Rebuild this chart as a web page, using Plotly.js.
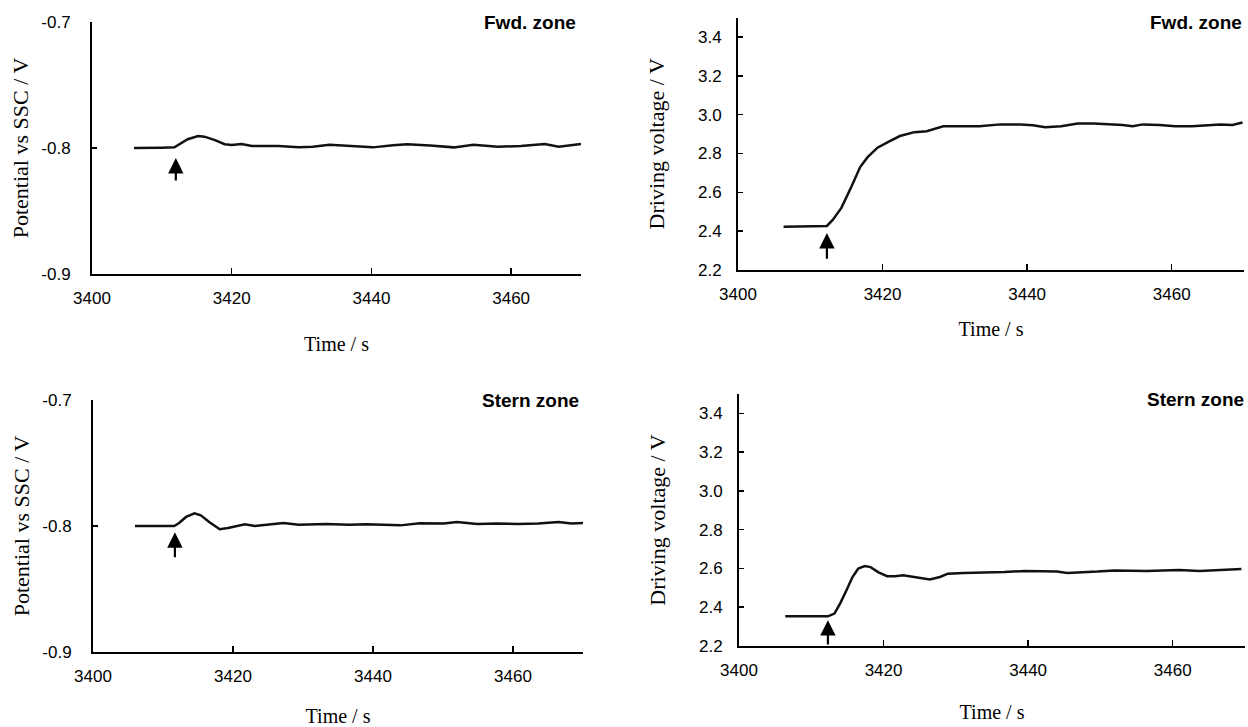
<!DOCTYPE html>
<html><head><meta charset="utf-8">
<script src="https://cdn.plot.ly/plotly-3.0.1.min.js"></script>
<style>html,body{margin:0;padding:0;background:#fff}#chart{width:1248px;height:727px}</style>
</head><body><div id="chart"></div>
<script>
// ---- data ----
const xTickVals = [3400, 3420, 3440, 3460];
const potTickVals = [-0.9, -0.8, -0.7];
const potTickText = ['-0.9', '-0.8', '-0.7'];
const volTickVals = [2.2, 2.4, 2.6, 2.8, 3.0, 3.2, 3.4];
const volTickText = ['2.2', '2.4', '2.6', '2.8', '3.0', '3.2', '3.4'];
const zoneLabels = ['Fwd. zone', 'Stern zone'];

// Fwd. zone, potential vs SSC
const tFwdPot = [3406.0, 3408, 3410, 3411.8, 3412.5, 3413.7, 3415.2, 3416.1, 3417.6, 3419.0, 3420.0, 3421.4, 3422.9, 3424.8, 3426.7, 3429.6, 3431.6, 3434.0, 3437.3, 3440.2, 3443.1, 3445.1, 3448.4, 3451.8, 3454.6, 3458.1, 3461.4, 3464.8, 3466.8, 3468.7, 3470];
const vFwdPot = [-0.8, -0.8002, -0.7998, -0.7995, -0.797, -0.793, -0.7905, -0.791, -0.7937, -0.797, -0.7976, -0.7968, -0.7984, -0.7984, -0.7984, -0.7995, -0.799, -0.7974, -0.7984, -0.7995, -0.7979, -0.797, -0.798, -0.7995, -0.7974, -0.799, -0.7984, -0.7968, -0.799, -0.7974, -0.7968];

// Fwd. zone, driving voltage
const tFwdVolt = [3406.3, 3409, 3412.3, 3413.1, 3414.3, 3415.7, 3416.9, 3417.9, 3419.3, 3420.8, 3422.4, 3424.4, 3426.1, 3428.4, 3431.2, 3433.4, 3436.3, 3439.1, 3440.8, 3442.5, 3444.7, 3447.0, 3449.2, 3451.5, 3453.2, 3454.6, 3456.0, 3458.3, 3460.5, 3462.8, 3464.5, 3466.7, 3468.4, 3469.8];
const vFwdVolt = [2.423, 2.425, 2.427, 2.458, 2.52, 2.63, 2.73, 2.78, 2.83, 2.86, 2.89, 2.91, 2.915, 2.94, 2.94, 2.94, 2.95, 2.95, 2.945, 2.935, 2.94, 2.955, 2.955, 2.95, 2.947, 2.94, 2.95, 2.947, 2.94, 2.94, 2.945, 2.95, 2.947, 2.96];

// Stern zone, potential vs SSC
const tSternPot = [3406.0, 3409, 3411.6, 3412.3, 3413.3, 3414.5, 3415.4, 3416.6, 3418.1, 3419.3, 3420.5, 3421.7, 3423.1, 3425.1, 3427.2, 3429.4, 3433.3, 3436.6, 3439.0, 3443.9, 3446.7, 3450.1, 3452.0, 3454.9, 3457.8, 3460.7, 3463.6, 3466.5, 3468.4, 3470.3];
const vSternPot = [-0.8, -0.8002, -0.8, -0.7976, -0.7928, -0.79, -0.7915, -0.7968, -0.8026, -0.8016, -0.8, -0.7987, -0.8, -0.799, -0.7976, -0.799, -0.7984, -0.799, -0.7987, -0.7995, -0.7978, -0.798, -0.7968, -0.7984, -0.798, -0.7984, -0.798, -0.7968, -0.798, -0.7976];

// Stern zone, driving voltage
const tSternVolt = [3406.4, 3409, 3412.3, 3413.2, 3414.0, 3414.9, 3415.7, 3416.5, 3417.4, 3418.2, 3419.3, 3420.5, 3421.6, 3422.7, 3424.4, 3426.4, 3427.8, 3428.9, 3431.1, 3433.9, 3436.7, 3439.5, 3442.3, 3444.0, 3445.4, 3447.4, 3449.6, 3451.9, 3454.1, 3456.4, 3458.6, 3460.9, 3463.7, 3465.9, 3468.1, 3469.5];
const vSternVolt = [2.353, 2.353, 2.353, 2.367, 2.42, 2.49, 2.556, 2.60, 2.612, 2.607, 2.58, 2.56, 2.56, 2.565, 2.556, 2.543, 2.556, 2.573, 2.577, 2.579, 2.582, 2.587, 2.587, 2.584, 2.577, 2.579, 2.584, 2.59, 2.587, 2.587, 2.59, 2.592, 2.587, 2.59, 2.596, 2.597];

// arrows marking the start of the disturbance (time, tip value, tail value)
const arrowTime = [3412.0, 3412.3, 3411.7, 3412.3];
const arrowTip = [-0.808, 2.39, -0.805, 2.333];
const arrowTail = [-0.827, 2.25, -0.826, 2.2];

// ---- chart ----
const W = 1248, H = 727;
const lineStyle = {color: '#111', width: 2.5};
const traces = [
  {x: tFwdPot, y: vFwdPot, xaxis: 'x', yaxis: 'y'},
  {x: tFwdVolt, y: vFwdVolt, xaxis: 'x2', yaxis: 'y2'},
  {x: tSternPot, y: vSternPot, xaxis: 'x3', yaxis: 'y3'},
  {x: tSternVolt, y: vSternVolt, xaxis: 'x4', yaxis: 'y4'}
].map(t => Object.assign(t, {type: 'scatter', mode: 'lines', line: lineStyle, hoverinfo: 'skip'}));

const tickFont = {family: 'Liberation Sans, Arial, sans-serif', size: 17, color: '#000'};
const xTitleFont = {family: 'Liberation Serif, Times New Roman, serif', size: 20, color: '#000'};
const yTitleFont = {family: 'Liberation Serif, Times New Roman, serif', size: 22, color: '#000'};

function px(a, b) { return [a / W, b / W]; }
function py(top, bottom) { return [1 - bottom / H, 1 - top / H]; }

function xAxis(dom, anchor, standoff) {
  return {
    domain: dom, anchor: anchor, range: [3400, 3470], tickmode: 'array', tickvals: xTickVals,
    ticks: 'inside', ticklen: 6, tickwidth: 1.5, tickcolor: '#000',
    showline: true, linecolor: '#000', linewidth: 2, showgrid: false, zeroline: false,
    tickfont: tickFont, ticklabelstandoff: 8,
    title: {text: 'Time / s', font: xTitleFont, standoff: standoff}
  };
}
function yAxis(dom, anchor, range, vals, text, labelGap, standoff, title) {
  return {
    domain: dom, anchor: anchor, range: range, tickmode: 'array', tickvals: vals, ticktext: text,
    ticks: 'inside', ticklen: 5, tickwidth: 1.5, tickcolor: '#000',
    showline: true, linecolor: '#000', linewidth: 2, showgrid: false, zeroline: false,
    tickfont: tickFont, ticklabelstandoff: labelGap,
    title: {text: title, font: yTitleFont, standoff: standoff}
  };
}

const layout = {
  width: W, height: H, margin: {l: 0, r: 0, t: 0, b: 0},
  paper_bgcolor: '#fff', plot_bgcolor: '#fff', showlegend: false, hovermode: false,
  xaxis: xAxis(px(92, 581), 'y', 30),
  yaxis: yAxis(py(22, 274), 'x', [-0.9, -0.7], potTickVals, potTickText, 16, 7, 'Potential vs SSC / V'),
  xaxis2: xAxis(px(738, 1244), 'y2', 19),
  yaxis2: yAxis(py(17.6, 270), 'x2', [2.2, 3.5], volTickVals, volTickText, 11, 27, 'Driving voltage / V'),
  xaxis3: xAxis(px(93, 583), 'y3', 26),
  yaxis3: yAxis(py(400, 652), 'x3', [-0.9, -0.7], potTickVals, potTickText, 16, 7, 'Potential vs SSC / V'),
  xaxis4: xAxis(px(739, 1245), 'y4', 26),
  yaxis4: yAxis(py(394, 646), 'x4', [2.2, 3.5], volTickVals, volTickText, 11, 27, 'Driving voltage / V'),
  annotations: []
};

const zoneFont = {family: 'Liberation Sans, Arial, sans-serif', size: 19, color: '#000'};
const zonePos = [[578, 22], [1244, 22], [581, 400], [1246, 399]];
zonePos.forEach((p, i) => {
  layout.annotations.push({
    xref: 'paper', yref: 'paper', x: p[0] / W, y: 1 - p[1] / H, xanchor: 'right', yanchor: 'middle',
    text: '<b>' + zoneLabels[i < 2 ? 0 : 1] + '</b>', showarrow: false, font: zoneFont
  });
});
const axNames = [['x', 'y'], ['x2', 'y2'], ['x3', 'y3'], ['x4', 'y4']];
arrowTime.forEach((t, i) => {
  layout.annotations.push({
    xref: axNames[i][0], yref: axNames[i][1], axref: axNames[i][0], ayref: axNames[i][1],
    x: t, y: arrowTip[i], ax: t, ay: arrowTail[i], text: '', showarrow: true,
    arrowhead: 2, arrowsize: 1.4, arrowwidth: 2.2, arrowcolor: '#000', standoff: 0, startstandoff: 0
  });
});

Plotly.newPlot('chart', traces, layout, {staticPlot: true, displayModeBar: false});
</script>
</body></html>
